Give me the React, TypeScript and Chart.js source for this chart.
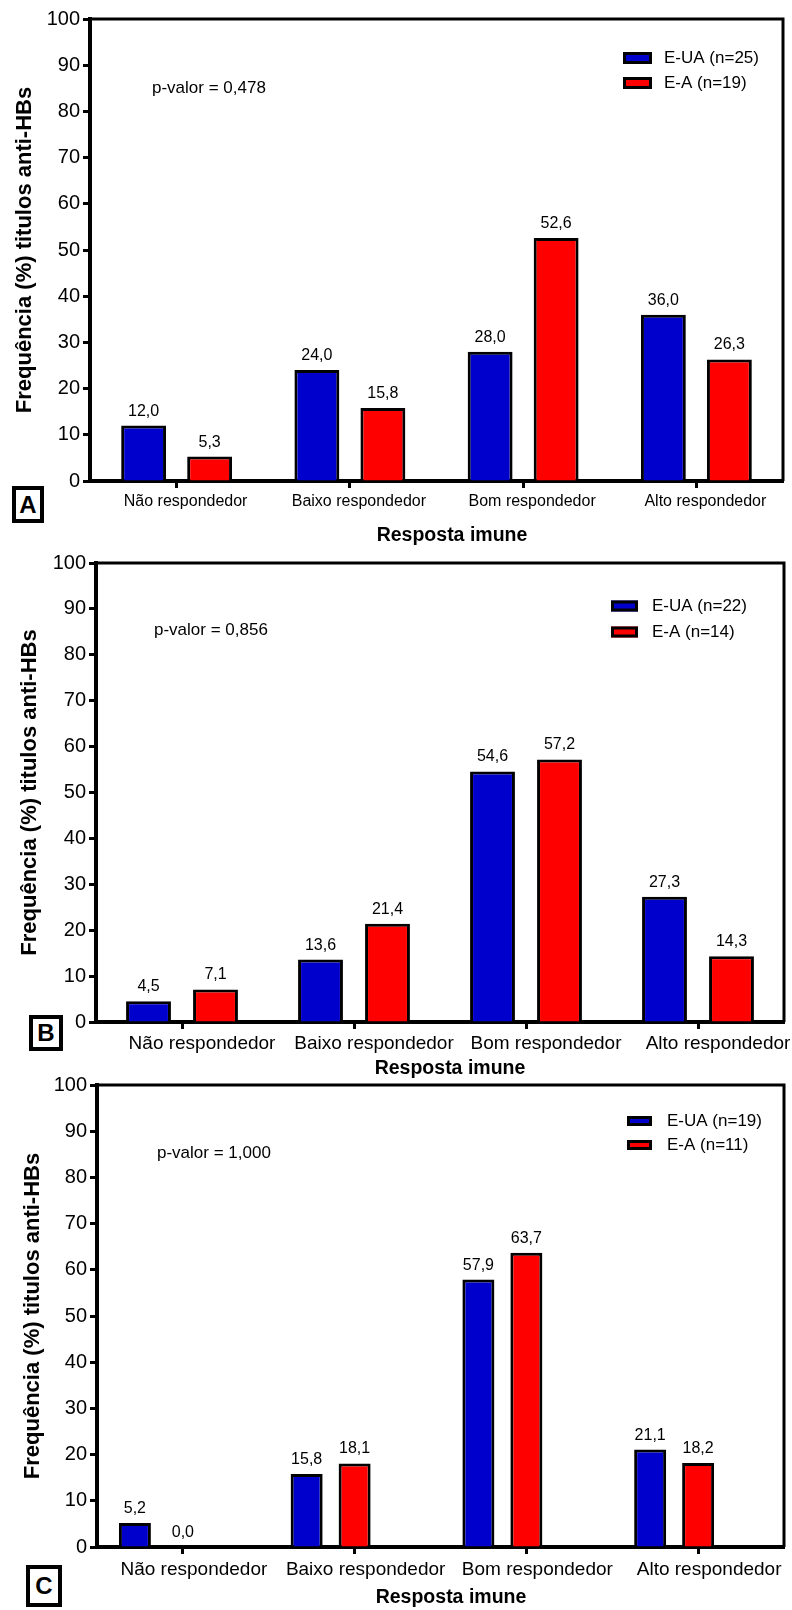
import React, { useEffect, useRef } from "react";
import { Chart, registerables } from "chart.js";

Chart.register(...registerables);

const categories = ["Não respondedor", "Baixo respondedor", "Bom respondedor", "Alto respondedor"];
const yTicks = [0, 10, 20, 30, 40, 50, 60, 70, 80, 90, 100];

const seriesNames = ["E-UA", "E-A"];
const blueA = [12.0, 24.0, 28.0, 36.0];
const redA = [5.3, 15.8, 52.6, 26.3];
const nA = [25, 19];
const pA = "0,478";

const blueB = [4.5, 13.6, 54.6, 27.3];
const redB = [7.1, 21.4, 57.2, 14.3];
const nB = [22, 14];
const pB = "0,856";

const blueC = [5.2, 15.8, 57.9, 21.1];
const redC = [0.0, 18.1, 63.7, 18.2];
const nC = [19, 11];
const pC = "1,000";

const yTitle = "Frequência (%) titulos anti-HBs";
const xTitle = "Resposta imune";

const FONT = "'Liberation Sans', Arial, sans-serif";
const BLUE = "#0000CC";
const RED = "#FF0000";

type PanelCfg = {
  letter: string;
  blue: number[];
  red: number[];
  n: number[];
  p: string;
  top: number;
  height: number;
  pad: { top: number; left: number; right: number; bottom: number };
  yWidth: number;
  xHeight: number;
  xFont: number;
  xPad: number;
  xShift: number;
  cp: number;
  bp: number;
  extraSlot: boolean;
  legend: { x: number; w: number; h: number; y1: number; y2: number; tx: number };
  pv: { x: number; y: number };
  xt: { x: number; y: number };
  box: { left: number; top: number; w: number; h: number };
};

const panels: PanelCfg[] = [
  {
    letter: "A", blue: blueA, red: redA, n: nA, p: pA,
    top: 0, height: 545,
    pad: { top: 19, left: 12, right: 9, bottom: 1 },
    yWidth: 78, xHeight: 63, xFont: 16, xPad: 4, xShift: 9,
    cp: 0.762, bp: 0.68, extraSlot: false,
    legend: { x: 623, w: 29, h: 12, y1: 58, y2: 83, tx: 664 },
    pv: { x: 152, y: 88 },
    xt: { x: 452, y: 536 },
    box: { left: 12, top: 486, w: 32, h: 37 },
  },
  {
    letter: "B", blue: blueB, red: redB, n: nB, p: pB,
    top: 545, height: 535,
    pad: { top: 18, left: 17, right: 8, bottom: 4 },
    yWidth: 79, xHeight: 54, xFont: 19, xPad: 3, xShift: 20,
    cp: 0.779, bp: 0.67, extraSlot: false,
    legend: { x: 611, w: 27, h: 11, y1: 606, y2: 632, tx: 652 },
    pv: { x: 154, y: 630 },
    xt: { x: 450, y: 1069 },
    box: { left: 29, top: 1015, w: 34, h: 36 },
  },
  {
    letter: "C", blue: blueC, red: redC, n: nC, p: pC,
    top: 1068, height: 542,
    pad: { top: 17, left: 20, right: 8, bottom: 0 },
    yWidth: 77, xHeight: 63, xFont: 19, xPad: 4, xShift: 11,
    cp: 0.838, bp: 0.667, extraSlot: true,
    legend: { x: 627, w: 25, h: 10, y1: 1121, y2: 1145, tx: 667 },
    pv: { x: 157, y: 1153 },
    xt: { x: 451, y: 1598 },
    box: { left: 26, top: 1565, w: 36, h: 42 },
  },
];

const fmt = (v: number) => v.toFixed(1).replace(".", ",");

function Panel({ cfg }: { cfg: PanelCfg }) {
  const ref = useRef<HTMLCanvasElement | null>(null);
  useEffect(() => {
    if (!ref.current) return;
    const off = cfg.top;
    const overlay = {
      id: "overlay",
      afterDatasetsDraw(chart: any) {
        const ctx = chart.ctx;
        const ca = chart.chartArea;
        ctx.save();
        // value labels
        ctx.fillStyle = "#000";
        ctx.font = `16px ${FONT}`;
        ctx.textAlign = "center";
        ctx.textBaseline = "alphabetic";
        [0, 1].forEach((di) => {
          const meta = chart.getDatasetMeta(di);
          const vals = chart.data.datasets[di].data as number[];
          meta.data.forEach((bar: any, j: number) => {
            ctx.fillText(fmt(vals[j]), bar.x, bar.y - 10);
          });
        });
        // frame (top and right)
        ctx.strokeStyle = "#000";
        ctx.lineWidth = 3;
        ctx.beginPath();
        ctx.moveTo(ca.left, ca.top);
        ctx.lineTo(ca.right, ca.top);
        ctx.lineTo(ca.right, ca.bottom);
        ctx.stroke();
        // legend
        const L = cfg.legend;
        [L.y1, L.y2].forEach((yy, i) => {
          const ds = chart.data.datasets[i];
          const y = yy - off;
          ctx.fillStyle = ds.backgroundColor;
          ctx.fillRect(L.x, y - L.h / 2, L.w, L.h);
          ctx.lineWidth = 3;
          ctx.strokeStyle = "#000";
          ctx.strokeRect(L.x + 1.5, y - L.h / 2 + 1.5, L.w - 3, L.h - 3);
          ctx.fillStyle = "#000";
          ctx.font = `17px ${FONT}`;
          ctx.textAlign = "left";
          ctx.textBaseline = "middle";
          ctx.fillText(ds.label, L.tx, y);
        });
        // p-value
        ctx.font = `17px ${FONT}`;
        ctx.textAlign = "left";
        ctx.textBaseline = "middle";
        ctx.fillText(`p-valor = ${cfg.p}`, cfg.pv.x, cfg.pv.y - off);
        // x axis title
        ctx.font = `bold 19.5px ${FONT}`;
        ctx.textAlign = "center";
        ctx.fillText(xTitle, cfg.xt.x, cfg.xt.y - off);
        ctx.restore();
      },
    };
    const datasets: any[] = [
      {
        label: `${seriesNames[0]} (n=${cfg.n[0]})`,
        data: cfg.blue,
        backgroundColor: BLUE,
        borderColor: "#000",
        borderWidth: 3,
        categoryPercentage: cfg.cp,
        barPercentage: cfg.bp,
      },
      {
        label: `${seriesNames[1]} (n=${cfg.n[1]})`,
        data: cfg.red,
        backgroundColor: RED,
        borderColor: "#000",
        borderWidth: 3,
        categoryPercentage: cfg.cp,
        barPercentage: cfg.bp,
      },
    ];
    if (cfg.extraSlot) {
      datasets.push({
        label: "",
        data: categories.map(() => null),
        backgroundColor: "rgba(0,0,0,0)",
        borderWidth: 0,
        categoryPercentage: cfg.cp,
        barPercentage: cfg.bp,
      });
    }
    const chart = new Chart(ref.current, {
      type: "bar",
      data: { labels: categories, datasets },
      options: {
        animation: false,
        responsive: false,
        maintainAspectRatio: false,
        layout: { padding: cfg.pad },
        plugins: { legend: { display: false }, tooltip: { enabled: false } },
        scales: {
          x: {
            offset: true,
            grid: { display: true, drawOnChartArea: false, drawTicks: true, tickLength: 7, tickWidth: 3, tickColor: "#000", offset: false },
            border: { display: true, color: "#000", width: 4 },
            ticks: { color: "#000", font: { family: FONT, size: cfg.xFont }, padding: cfg.xPad, labelOffset: cfg.xShift, maxRotation: 0, autoSkip: false },
            title: { display: false },
            afterFit: (s: any) => { s.height = cfg.xHeight; },
          },
          y: {
            min: 0,
            max: 100,
            afterBuildTicks: (s: any) => { s.ticks = yTicks.map((v) => ({ value: v })); },
            grid: { display: true, drawOnChartArea: false, drawTicks: true, tickLength: 7, tickWidth: 3, tickColor: "#000" },
            border: { display: true, color: "#000", width: 4 },
            ticks: { color: "#000", font: { family: FONT, size: 20 }, padding: 3 },
            title: { display: true, text: yTitle, color: "#000", font: { family: FONT, size: 22, weight: "bold" }, padding: 0 },
            afterFit: (s: any) => { s.width = cfg.yWidth; },
          },
        },
      },
      plugins: [overlay],
    });
    return () => chart.destroy();
  }, [cfg]);
  return (
    <>
      <canvas
        ref={ref}
        width={792}
        height={cfg.height}
        style={{ position: "absolute", left: 0, top: cfg.top, width: 792, height: cfg.height }}
      />
      <div
        style={{
          position: "absolute",
          left: cfg.box.left,
          top: cfg.box.top,
          width: cfg.box.w,
          height: cfg.box.h,
          boxSizing: "border-box",
          border: "4px solid #000",
          background: "#fff",
          display: "flex",
          alignItems: "center",
          justifyContent: "center",
          fontFamily: FONT,
          fontWeight: "bold",
          fontSize: 24,
          color: "#000",
          zIndex: 2,
        }}
      >
        {cfg.letter}
      </div>
    </>
  );
}

export default function App() {
  return (
    <div style={{ position: "absolute", left: 0, top: 0, width: 792, height: 1610, background: "#fff", overflow: "hidden" }}>
      {panels.map((p) => (
        <Panel key={p.letter} cfg={p} />
      ))}
    </div>
  );
}
